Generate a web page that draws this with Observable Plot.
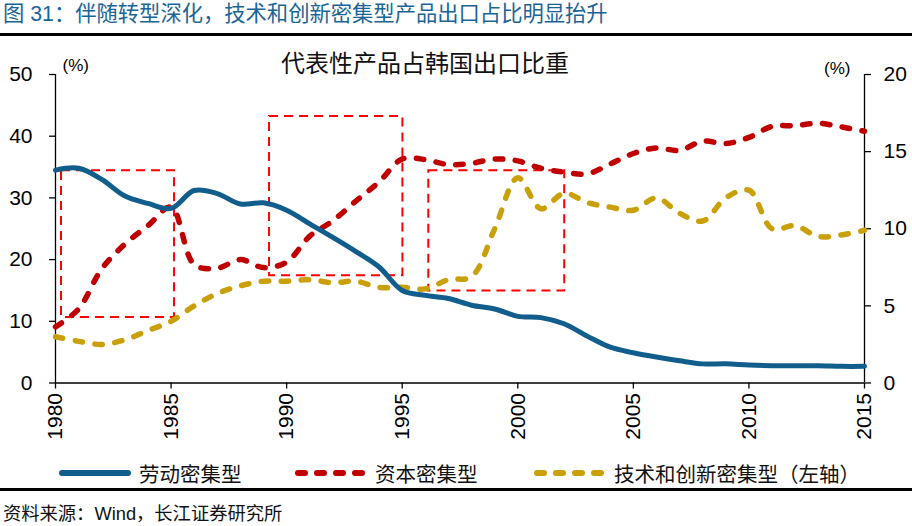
<!DOCTYPE html>
<html>
<head>
<meta charset="utf-8">
<script src="https://cdn.jsdelivr.net/npm/d3@7"></script>
<script src="https://cdn.jsdelivr.net/npm/@observablehq/plot@0.6"></script>
<style>
  html, body { margin: 0; padding: 0; background: #fff; }
  body { width: 912px; height: 526px; overflow: hidden; position: relative;
         font-family: "Liberation Sans", "Noto Sans CJK SC", sans-serif; }
  #title { position: absolute; left: 3px; top: 0; height: 33px; line-height: 29px;
           font-size: 21.3px; color: #1a6496; font-family: "Liberation Sans", "Noto Sans CJK SC", sans-serif; white-space: nowrap; }
  .rule { position: absolute; left: 0; width: 912px; height: 3px; background: #000; }
  #chart { position: absolute; left: 0; top: 36px; }
  #legend { position: absolute; left: 0; top: 458px; width: 912px; height: 30px; }
  .item { position: absolute; top: 0; height: 30px; display: flex; align-items: center; font-size: 20.5px; color: #111; white-space: nowrap; }
  .item svg { margin-right: 7px; }
  #caption { position: absolute; left: 3px; top: 499px; font-size: 18.3px; color: #111; white-space: nowrap; }
</style>
</head>
<body>
<div id="title">图 31：伴随转型深化，技术和创新密集型产品出口占比明显抬升</div>
<div class="rule" style="top:33px"></div>
<div id="chart"></div>
<div id="legend"></div>
<div class="rule" style="top:488px"></div>
<div id="caption">资料来源：Wind，长江证券研究所</div>
<script>
// ---- data ----
const years = [1980,1981,1982,1983,1984,1985,1986,1987,1988,1989,
               1990,1991,1992,1993,1994,1995,1996,1997,1998,1999,
               2000,2001,2002,2003,2004,2005,2006,2007,2008,2009,
               2010,2011,2012,2013,2014,2015];
// 劳动密集型 (left axis, %)
const labor = [34.5,34.8,33.0,30.3,29.1,28.3,31.2,30.7,29.0,29.2,
               28.0,25.8,23.6,21.3,18.8,15.0,14.2,13.7,12.6,12.0,
               10.8,10.6,9.6,7.6,5.8,4.9,4.2,3.6,3.1,3.1,
               2.9,2.8,2.8,2.8,2.7,2.7];
// 资本密集型 (left axis, %)
const capital = [9.1,12.0,18.5,22.5,25.5,28.5,19.2,18.6,20.0,18.7,
                 19.6,23.8,26.3,29.5,32.6,36.3,36.2,35.4,35.6,36.3,
                 36.0,34.8,34.2,33.9,35.5,37.2,38.1,37.7,39.2,38.8,
                 39.8,41.6,41.7,42.1,41.5,40.8];
// 技术和创新密集型 (right axis, %)
const tech = [3.0,2.7,2.5,2.8,3.4,4.0,5.0,5.8,6.3,6.6,
              6.6,6.7,6.5,6.6,6.2,6.2,6.1,6.7,6.9,10.0,
              13.3,11.3,12.3,11.7,11.4,11.2,12.0,11.0,10.5,12.0,
              12.5,10.0,10.2,9.5,9.6,9.9];
const seriesNames = ["劳动密集型", "资本密集型", "技术和创新密集型（左轴）"];
const seriesColors = ["#115d8c", "#c00000", "#c9a00a"];
const xTicks = [1980,1985,1990,1995,2000,2005,2010,2015];
const leftTicks = [0,10,20,30,40,50];
const rightTicks = [0,5,10,15,20];
const rightFactor = 50 / 20; // right axis 0–20 maps onto left 0–50
// highlighted periods (dashed red boxes), in data units
const boxes = [
  {x1: 1980.26, x2: 1985.15, y1: 10.6, y2: 34.4},
  {x1: 1989.26, x2: 1995.03, y1: 17.4, y2: 43.2},
  {x1: 1996.15, x2: 2002.03, y1: 14.9, y2: 34.4}
];
const chartTitle = "代表性产品占韩国出口比重";
const unitLabel = "(%)";

const rows = years.map((y, i) => ({year: y, labor: labor[i], capital: capital[i], tech: tech[i] * rightFactor}));

const plot = Plot.plot({
  width: 912,
  height: 419,
  marginTop: 38,
  marginBottom: 72.5,
  marginLeft: 55,
  marginRight: 48,
  style: {fontFamily: '"Liberation Sans", "Noto Sans CJK SC", sans-serif', background: "transparent", color: "#000", overflow: "visible"},
  x: {domain: [1980, 2015]},
  y: {domain: [0, 50]},
  marks: [
    Plot.axisX({ticks: xTicks, tickFormat: d => String(d), tickRotate: -90, tickSize: 6, tickPadding: 4, fontSize: 21, label: null, stroke: "#000", strokeWidth: 1.3}),
    Plot.axisY({ticks: leftTicks, tickSize: 6, tickPadding: 17, fontSize: 21, label: null, stroke: "#000", strokeWidth: 1.3}),
    Plot.axisY({anchor: "right", ticks: rightTicks.map(d => d * rightFactor), tickFormat: d => String(Math.round(d / rightFactor)), tickSize: 6, tickPadding: 13, fontSize: 21, label: null, stroke: "#000", strokeWidth: 1.3}),
    Plot.ruleX([1980, 2015], {y1: 0, y2: 50, stroke: "#000", strokeWidth: 1.3}),
    Plot.ruleY([0], {stroke: "#000", strokeWidth: 1.3}),
    Plot.rect(boxes, {x1: "x1", x2: "x2", y1: "y1", y2: "y2", fill: "none", stroke: "#ff0000", strokeWidth: 2, strokeDasharray: "9,6"}),
    Plot.line(rows, {x: "year", y: "tech", curve: "catmull-rom", stroke: seriesColors[2], strokeWidth: 5.5, strokeDasharray: "7.5,12.5", strokeLinecap: "round"}),
    Plot.line(rows, {x: "year", y: "capital", curve: "catmull-rom", stroke: seriesColors[1], strokeWidth: 5.5, strokeDasharray: "7.5,12.5", strokeLinecap: "round"}),
    Plot.line(rows, {x: "year", y: "labor", curve: "catmull-rom", stroke: seriesColors[0], strokeWidth: 5}),
    Plot.text([chartTitle], {frameAnchor: "top", dx: -35, dy: -10, fontSize: 24, fill: "#111", fontFamily: '"Noto Sans CJK SC", sans-serif', lineAnchor: "middle"}),
    Plot.text([unitLabel], {frameAnchor: "top-left", textAnchor: "start", dx: 7, dy: -9, fontSize: 17, fill: "#000", lineAnchor: "middle"}),
    Plot.text([unitLabel], {frameAnchor: "top-right", textAnchor: "end", dx: -14, dy: -6, fontSize: 17, fill: "#000", lineAnchor: "middle"})
  ]
});
document.getElementById("chart").appendChild(plot);

// legend
const legendX = [58, 294, 533];
const legend = document.getElementById("legend");
seriesNames.forEach((name, i) => {
  const item = document.createElement("div");
  item.className = "item";
  item.style.left = legendX[i] + "px";
  const dashed = i > 0;
  item.innerHTML = `<svg width="74" height="12"><line x1="4" x2="70" y1="6" y2="6" stroke="${seriesColors[i]}" stroke-width="6" stroke-linecap="round" ${dashed ? 'stroke-dasharray="7,12"' : ''}/></svg><span>${name}</span>`;
  legend.appendChild(item);
});
</script>
</body>
</html>
